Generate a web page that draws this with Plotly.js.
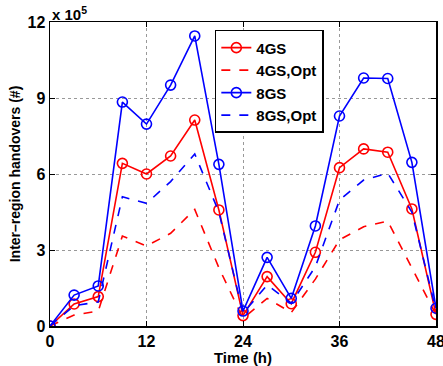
<!DOCTYPE html>
<html>
<head>
<meta charset="utf-8">
<script src="https://cdn.plot.ly/plotly-3.0.1.min.js"></script>
<style>html,body{margin:0;padding:0;background:#fff;}#chart{width:443px;height:366px;}</style>
</head>
<body>
<div id="chart"></div>
<script>
// Time (hours)
const hours = [0, 3, 6, 9, 12, 15, 18, 21, 24, 27, 30, 33, 36, 39, 42, 45, 48];
// Inter-region handovers, in units of 1e5
const gs4     = [0, 0.87, 1.16, 6.42, 6.0, 6.71, 8.13, 4.58, 0.41, 1.95, 0.88, 2.91, 6.25, 6.99, 6.86, 4.62, 0.46];
const gs4Opt  = [0, 0.43, 0.59, 3.55, 3.16, 3.66, 4.6, 2.3, 0.3, 1.09, 0.53, 1.85, 3.4, 3.92, 4.14, 2.3, 0.45];
const gs8     = [0, 1.22, 1.58, 8.84, 7.97, 9.51, 11.45, 6.38, 0.59, 2.71, 1.09, 3.95, 8.29, 9.79, 9.77, 6.46, 0.7];
const gs8Opt  = [0, 0.8, 0.95, 5.1, 4.84, 5.7, 6.79, 4.5, 0.5, 1.62, 0.9, 2.34, 4.97, 5.76, 6.03, 4.5, 0.62];
const seriesNames = ['4GS', '4GS,Opt', '8GS', '8GS,Opt'];
const yTicks = [0, 3, 6, 9, 12];
const xTicks = [0, 12, 24, 36, 48];

const RED = '#ff0000', BLUE = '#0000ff';
const FAM = 'Liberation Sans, Arial, sans-serif';
const mk = (y, name, color, dashed) => ({
  x: hours, y: y, name: name, type: 'scatter',
  mode: dashed ? 'lines' : 'lines+markers',
  line: {color: color, width: 1.6, dash: dashed ? 'dash' : 'solid'},
  marker: {symbol: 'circle-open', size: 10, color: color, line: {width: 1.6, color: color}}
});
const data = [
  mk(gs4, seriesNames[0], RED, false),
  mk(gs4Opt, seriesNames[1], RED, true),
  mk(gs8, seriesNames[2], BLUE, false),
  mk(gs8Opt, seriesNames[3], BLUE, true)
];
const tickFont = {family: FAM, size: 16, color: '#000', weight: 'bold'};
const axisCommon = {
  showline: true, linecolor: '#000', linewidth: 1.5, mirror: 'allticks',
  ticks: 'inside', ticklen: 5, tickwidth: 1, tickcolor: '#000',
  showgrid: true, gridcolor: '#999', griddash: 'dot', gridwidth: 1,
  zeroline: false, tickfont: tickFont, ticklabeloverflow: 'allow', automargin: false
};
const layout = {
  width: 443, height: 366,
  margin: {l: 50, r: 7, t: 22, b: 40},
  paper_bgcolor: '#fff', plot_bgcolor: '#fff',
  showlegend: true,
  legend: {x: 0.427, y: 0.974, xanchor: 'left', yanchor: 'top',
    bgcolor: '#fff', bordercolor: '#000', borderwidth: 1.5,
    font: {family: FAM, size: 15, color: '#000', weight: 'bold'}, tracegroupgap: 0, itemwidth: 30},
  xaxis: Object.assign({}, axisCommon, {
    range: [0, 48], tickvals: xTicks, ticktext: xTicks.map(String), ticklabelstandoff: 0,
    title: {text: 'Time (h)', font: {family: FAM, size: 15, color: '#000', weight: 'bold'}, standoff: 0}
  }),
  yaxis: Object.assign({}, axisCommon, {
    range: [0, 12], tickvals: yTicks, ticktext: yTicks.map(String),
    title: {text: 'Inter\u2013region handovers (#)', font: {family: FAM, size: 14, color: '#000', weight: 'bold'}, standoff: 3}
  }),
  annotations: [{
    xref: 'paper', yref: 'paper', x: 0, y: 1, xanchor: 'left', yanchor: 'bottom',
    text: 'x 10<sup>5</sup>', showarrow: false, xshift: 0, yshift: -3,
    font: {family: FAM, size: 15, color: '#000', weight: 'bold'}
  }]
};
Plotly.newPlot('chart', data, layout, {displayModeBar: false, staticPlot: true});
</script>
</body>
</html>
